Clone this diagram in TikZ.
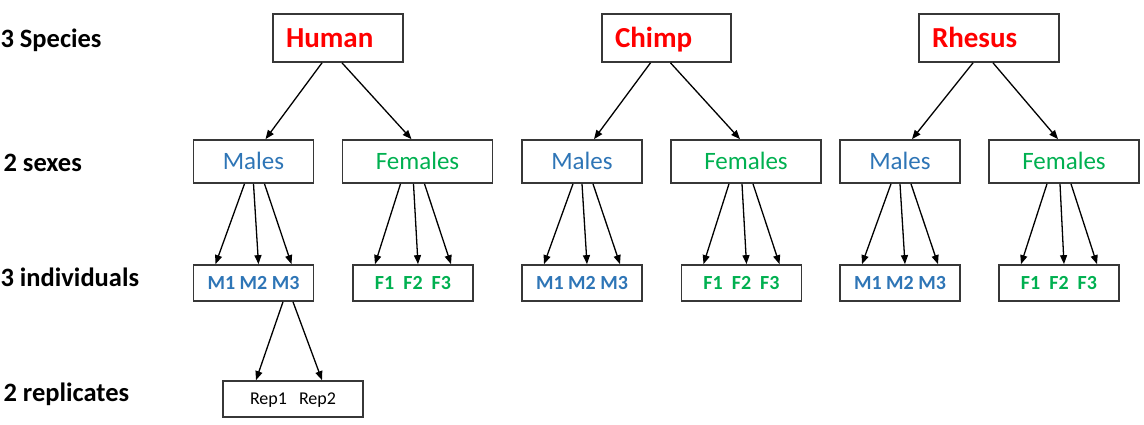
\documentclass[tikz,border=0pt]{standalone}
\usepackage{fontspec}
\setmainfont{Carlito}
\usetikzlibrary{arrows.meta}
\definecolor{spred}{RGB}{255,0,0}
\definecolor{mblue}{RGB}{46,117,182}
\definecolor{fgreen}{RGB}{0,176,80}
\definecolor{boxline}{RGB}{55,55,55}

\begin{document}
\begin{tikzpicture}[x=1pt,y=-1pt,
        box/.style={draw=boxline,line width=1.7pt,inner sep=0pt,text depth=0pt},
        species/.style={box,font=\fontsize{29}{32}\selectfont\bfseries,text=spred,text height=18.7pt,inner xsep=13pt,align=left,minimum height=48pt},
        males/.style={box,font=\fontsize{25}{30}\selectfont,text=mblue,text height=16pt,minimum width=120pt,minimum height=43pt},
        females/.style={males,text=fgreen,minimum width=150pt},
        indiv/.style={box,font=\fontsize{20}{24}\selectfont\bfseries,text height=12.9pt,minimum width=120pt,minimum height=36pt},
        arr/.style={-{Triangle[length=9pt,width=7pt]},line width=1.3pt},
        level/.style={anchor=base west,font=\fontsize{26.5}{30}\selectfont\bfseries}]
    \useasboundingbox (0,0) rectangle (1144,425);
    % levels on the left
    \node[level] (lsp) at (-3,48) {3 Species};
    \node[level] (lsx) at (0,172) {2 sexes};
    \node[level] (lin) at (-3,286) {3 individuals};
    \node[level] (lre) at (0,401) {2 replicates};
    % species
    \node[species,text width=104pt] (hum) at (338,38) {Human};
    \node[species,text width=103pt] (chi) at (666.5,38) {Chimp};
    \node[species,text width=114pt] (rhe) at (989,38) {Rhesus};
    % sexes
    \node[males] (humM) at (253.5,161.5) {Males};
    \node[females] (humF) at (417.5,161.5) {Females};
    \node[males] (chiM) at (582,161.5) {Males};
    \node[females] (chiF) at (746,161.5) {Females};
    \node[males] (rheM) at (900,161.5) {Males};
    \node[females] (rheF) at (1064,161.5) {Females};
    % individuals
    \node[indiv,text=mblue] (humMi) at (253.5,283) {M1 M2 M3};
    \node[indiv,text=fgreen] (humFi) at (413,283) {F1~~F2~~F3};
    \node[indiv,text=mblue] (chiMi) at (582,283) {M1 M2 M3};
    \node[indiv,text=fgreen] (chiFi) at (741.5,283) {F1~~F2~~F3};
    \node[indiv,text=mblue] (rheMi) at (900,283) {M1 M2 M3};
    \node[indiv,text=fgreen] (rheFi) at (1059,283) {F1~~F2~~F3};
    % replicates
    \node[box,font=\fontsize{18}{22}\selectfont,text height=11.6pt,minimum width=140pt,minimum height=36pt] (rep) at (293,399) {Rep1\hspace{12pt}Rep2};

    \foreach \s in {hum,chi,rhe} {
        \draw[arr] ([xshift=-16pt]\s.south) -- ([xshift=12pt]\s M.north);
        \draw[arr] ([xshift=4pt]\s.south) -- ([xshift=-6pt]\s F.north);
    }
    \foreach \p/\a/\b/\d in {humM/-9/0/11, chiM/-9/0/11, rheM/-9/0/11,
                             humF/-17/-4/7, chiF/-17/-4/7, rheF/-17/-4/7} {
        \draw[arr] ([xshift=\a pt]\p.south) -- ([xshift=-38pt]\p i.north);
        \draw[arr] ([xshift=\b pt]\p.south) -- ([xshift=5pt]\p i.north);
        \draw[arr] ([xshift=\d pt]\p.south) -- ([xshift=38pt]\p i.north);
    }
    \draw[arr] ([xshift=29.5pt]humMi.south) -- ([xshift=-37pt]rep.north);
    \draw[arr] ([xshift=39.5pt]humMi.south) -- ([xshift=29pt]rep.north);
\end{tikzpicture}
\end{document}
